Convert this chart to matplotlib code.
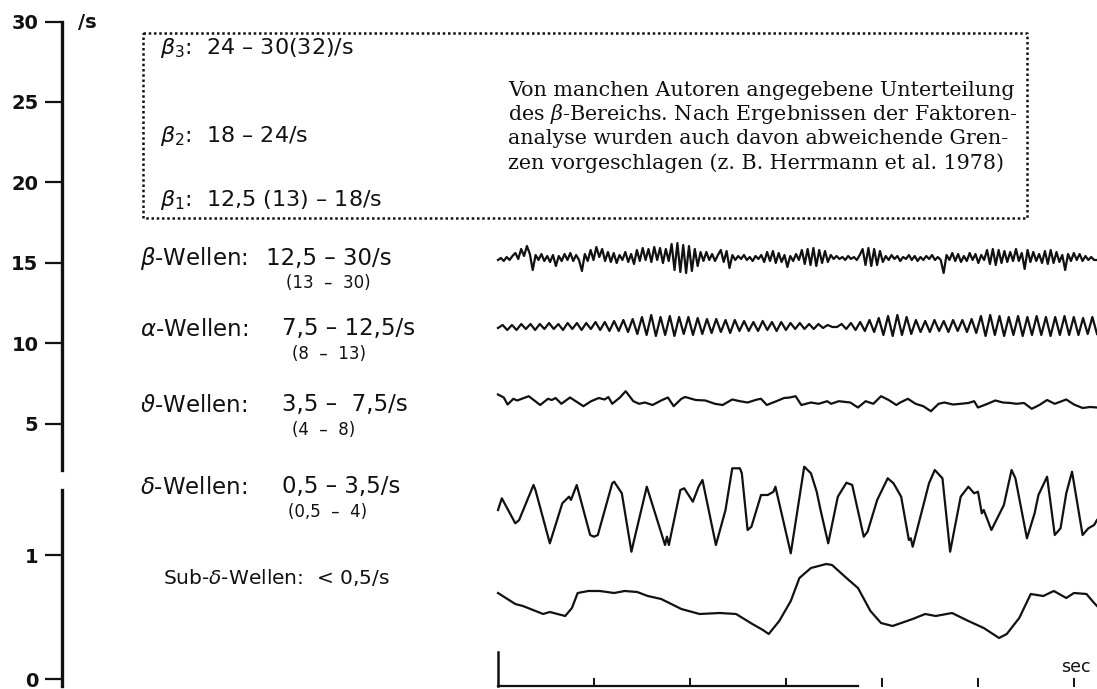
import numpy as np
import matplotlib
matplotlib.use("Agg")
import matplotlib.pyplot as plt

plt.rcParams["font.family"] = ["DejaVu Sans"]
plt.rcParams["mathtext.fontset"] = "dejavusans"

# ---------------- data ----------------
# frequency scale (waves per second), split into an upper and a lower range
freq_ticks_hi = [5, 10, 15, 20, 25, 30]
freq_ticks_lo = [0, 1]
freq_range_hi = (2.14, 30.0)
freq_range_lo = (-0.056, 1.524)

# time base of the traces (seconds)
record_len = 6.24
sec_ticks = [0, 1, 2, 3, 4, 5, 6]

# beta: deflections sampled every ~0.03 s
beta_vals = [-2, 0, -3, 1, -2, 2,
             5, -1, 9, 2, 12, 4, -12,
             3, -2, 4, -3, 2, -4, 3, -8, 2, -3, 4, -2, 5, -3, 3,
             -2, -13, 4, -3,
             8, -2, 11, 1, 9, -3, 6,
             -4, 5, -5, 3, -2, 6, -4, 4, -6, 8, -3, 10, -2, 9,
             -4, 11, -2, 10, -5, 9, -3,
             14, -12, 15, -14, 13, -15, 12, -13, 9, -8, 6,
             -3, 6, -2, 4, -3, 3,
             8, -4, 7, -10, 3, -2,
             2, -1, 3, -2, 1, -3, 2, -1, 3,
             -4, 6, -3, 7, -5, 5, -4, 3, -9,
             2, -3, 4, -2,
             8, -6, 9, -7, 10, -8, 8, -5, 7, -4, 3,
             -1, 2, -1, 1, -2, 2, -1, 1, -2, 3,
             9, -7, 10, -8, 9, -7, 7, -4,
             2, -2, 3, -1, 2, -3, 1, -1, 3, -2, 2, -3, 1, -2, 2, -1, 3, -2, 1, -2,
             -15,
             3, -2, 5, -3, 4, -4, 2, -3, 5, -2, 4, -5, 3, -2,
             8, -6, 9, -7, 8, -5, 7, -4, 6, -3,
             9, -3, 5, -11,
             8, -4, 6, -3, 4,
             -5, 7, -6, 8, -5, 6, -4, 3,
             -12,
             4, -3, 5, -2, 4, -3, 2, -2, 1, -2, -2]

# alpha: deflections sampled every ~0.048 s
alpha_vals = [-2, 1, -4, 1, -4, 2, -3, 2, -4, 2, -3, 3, -3, 2, -4, 3, -3, 3, -4, 3, -3, 4, -4, 4,
              -5, 5, -5, 6, -6, 7,
              -8, 9, -9, 11, -10, 9, -9, 10, -10, 9, -8, 9, -9, 8,
              -8, 7, -7, 7, -6, 6, -7, 6,
              -5, 5, -5, 4, -5, 5, -4, 4, -5, 4, -4, 3,
              -3, 3, -3, 2, -3, 2, -2, 1,
              -1, -1,
              2, -3, 3, -4, 4, -5, 6, -6,
              8, -9, 10, -10, 11, -9, 9, -8,
              6, -6, 5, -6, 6, -5, 5, -6, 6, -5, 6, -6, 7, -7,
              10, -10, 11, -9, 10, -10, 9, -9, 10, -10, 9, -9, 10, -9, 9, -10, 9, -9, 10, -9,
              9, -9, 8, -8, 9, -8]

# theta: (time s, deflection)
theta_t = [0.00, 0.06, 0.10, 0.16, 0.20, 0.32, 0.44, 0.52, 0.56, 0.60, 0.66, 0.75, 0.89, 0.97,
           1.05, 1.11, 1.15, 1.19, 1.27, 1.33, 1.41, 1.47, 1.53, 1.61, 1.71, 1.77, 1.83, 1.91,
           1.95, 2.06, 2.16, 2.26, 2.34, 2.44, 2.52, 2.60, 2.70, 2.74, 2.80, 2.90, 2.98, 3.04,
           3.10, 3.16, 3.26, 3.34, 3.43, 3.47, 3.55, 3.67, 3.75, 3.83, 3.91, 3.99, 4.07, 4.15,
           4.19, 4.27, 4.35, 4.43, 4.51, 4.59, 4.65, 4.74, 4.82, 4.90, 4.96, 5.00, 5.10, 5.18,
           5.26, 5.34, 5.40, 5.48, 5.56, 5.64, 5.72, 5.80, 5.92, 6.00, 6.09, 6.17, 6.24]
theta_v = [7.5, 4.5, -2.5, 3.2, 1.5, 5.8, -3.0, 3.2, 2.0, 4.0, -1.8, 4.5, -4.2, 0.8,
           4.0, 2.5, 5.0, -1.8, 4.5, 10.8, 0.8, -1.8, -0.5, -3.0, 2.0, 4.5, -4.2, 3.2,
           5.0, 2.0, 1.5, -1.8, -3.0, 2.5, 0.8, -0.5, 2.5, 3.2, -3.0, 0.8, 4.0, 4.5,
           5.8, -3.0, -0.5, -1.8, 0.8, -1.8, 0.8, -0.5, -5.5, 0.8, -1.8, 5.8, 2.0, -3.0,
           -0.5, 3.2, -1.8, -4.2, -9.2, -1.8, -0.5, -2.5, -1.8, -1.0, 0.8, -5.5, -1.8, 1.5,
           -0.5, -1.0, -1.8, -1.0, -6.8, -3.0, 2.0, -1.8, 2.5, -2.5, -6.0, -5.0, -5.5]

# delta: (time s, deflection)
delta_t = [0.00, 0.04, 0.18, 0.22, 0.37, 0.39, 0.54, 0.67, 0.74, 0.76, 0.82, 0.96, 1.00, 1.04,
           1.19, 1.21, 1.29, 1.39, 1.41, 1.55, 1.74, 1.76, 1.78, 1.90, 1.94, 2.03, 2.09, 2.13,
           2.27, 2.37, 2.44, 2.52, 2.54, 2.60, 2.64, 2.74, 2.81, 2.87, 2.89, 3.05, 3.19, 3.26,
           3.32, 3.36, 3.44, 3.54, 3.63, 3.69, 3.81, 3.85, 3.95, 4.06, 4.12, 4.20, 4.28, 4.30,
           4.32, 4.49, 4.55, 4.63, 4.71, 4.82, 4.90, 4.96, 5.00, 5.04, 5.06, 5.14, 5.27, 5.35,
           5.39, 5.51, 5.59, 5.63, 5.72, 5.80, 5.86, 5.92, 5.98, 6.09, 6.15, 6.21, 6.24]
delta_v = [0, 11.7, -13.3, -10, 25, 20, -33.3, 6.7, 13.3, 10, 25, -25, -26.7, -25,
           26.7, 28.3, 16.7, -41.7, -33.3, 23.3, -35, -26.7, -35, 20, 21.7, 8.3, 23.3, 30,
           -35, 0, 41.7, 41.7, 36.7, -20, -16.7, 15, 15, 18.3, 23.3, -43.3, 43.3, 36.7,
           18.3, 0, -33.3, 13.3, 27.3, 25, -26.7, -21.7, 10, 31.7, 26.7, 13.3, -30, -28.3,
           -36.7, 26.7, 40, 31.7, -41.7, 13.3, 23.3, 16.7, 18.3, -3.3, 0, -20, 5, 40,
           31.7, -28.3, -3.3, 15, 33.3, -25, -18.3, 16.7, 38.3, -25, -18.3, -15, -10]

# sub-delta: (time s, deflection)
sub_t = [0.00, 0.18, 0.26, 0.47, 0.54, 0.70, 0.77, 0.83, 0.94, 1.06, 1.21, 1.32, 1.45, 1.56,
         1.70, 1.91, 2.10, 2.31, 2.48, 2.65, 2.76, 2.82, 2.93, 3.05, 3.14, 3.26, 3.42, 3.48,
         3.63, 3.75, 3.88, 3.99, 4.11, 4.32, 4.45, 4.56, 4.73, 4.90, 5.06, 5.22, 5.30, 5.43,
         5.55, 5.68, 5.79, 5.92, 6.00, 6.13, 6.21, 6.24]
sub_v = [1, -10, -12, -20, -18, -22, -14, 1, 3, 3, 1, 3, 2, -2,
         -5, -15, -20, -19, -20, -30, -36, -40, -27, -7, 16, 26, 30, 29,
         16, 6, -17, -29, -32, -25, -20, -22, -19, -27, -34, -44, -40, -24,
         0, -2, 3, -4, 1, 0, -9, -12]

# ---------------- figure ----------------
W, H = 1097, 689
fig = plt.figure(figsize=(W / 100, H / 100), dpi=100)


def fx(px):
    return px / W


def fy(py):
    return 1 - py / H


INK = "#111111"

# full-figure canvas in pixel units for the annotations
bg = fig.add_axes([0, 0, 1, 1])
bg.set_xlim(0, W)
bg.set_ylim(H, 0)
bg.axis("off")


# frequency scale
def freq_axis(top_px, bottom_px, rng, ticks):
    ax = fig.add_axes([fx(62), fy(bottom_px), 0.0005, fy(top_px) - fy(bottom_px)])
    ax.patch.set_alpha(0)
    for s in ("top", "right", "bottom"):
        ax.spines[s].set_visible(False)
    ax.spines["left"].set_linewidth(2.4)
    ax.spines["left"].set_color(INK)
    ax.set_ylim(*rng)
    ax.set_xticks([])
    ax.set_yticks(ticks)
    ax.set_yticklabels([str(t) for t in ticks], fontweight="bold")
    ax.tick_params(axis="y", direction="out", length=12, width=1.6, pad=5,
                   labelsize=14, colors=INK)
    return ax


freq_axis(21.5, 470, freq_range_hi, freq_ticks_hi)
freq_axis(490, 686, freq_range_lo, freq_ticks_lo)
bg.text(78, 22, "/s", fontsize=14, fontweight="bold", va="center", ha="left", color=INK)

# dotted box with the beta sub-bands
box_x = [143, 1027, 1027, 143, 143]
box_y = [33, 33, 218, 218, 33]
bg.plot(box_x, box_y, color=INK, lw=1.8, ls=(0, (1, 1.1)))

bg.text(160, 48, r"$\beta_3$:  24 – 30(32)/s", fontsize=16, va="center", color=INK)
bg.text(160, 136, r"$\beta_2$:  18 – 24/s", fontsize=16, va="center", color=INK)
bg.text(160, 200, r"$\beta_1$:  12,5 (13) – 18/s", fontsize=16, va="center", color=INK)

para = ["Von manchen Autoren angegebene Unterteilung",
        r"des $\beta$-Bereichs. Nach Ergebnissen der Faktoren-",
        "analyse wurden auch davon abweichende Gren-",
        "zen vorgeschlagen (z. B. Herrmann et al. 1978)"]
for k, line in enumerate(para):
    bg.text(508, 90 + 24.5 * k, line, fontsize=14.9, family="DejaVu Serif",
            math_fontfamily="dejavuserif", va="center", ha="left", color=INK)

# band labels
rows = [(r"$\beta$-Wellen:", "12,5 – 30/s", "(13  –  30)", 258, 266, 286),
        (r"$\alpha$-Wellen:", "7,5 – 12,5/s", "(8  –  13)", 329, 282, 292),
        (r"$\vartheta$-Wellen:", "3,5 –  7,5/s", "(4  –  8)", 405, 282, 292),
        (r"$\delta$-Wellen:", "0,5 – 3,5/s", "(0,5  –  4)", 487, 282, 288)]
for name, rng, alt, yc, xr, xa in rows:
    bg.text(140, yc, name, fontsize=16.5, va="center", color=INK)
    bg.text(xr, yc, rng, fontsize=16.5, va="center", color=INK)
    bg.text(xa, yc + 25, alt, fontsize=12, va="center", color=INK)
bg.text(163, 578, r"Sub-$\delta$-Wellen:  < 0,5/s", fontsize=14.5, va="center", color=INK)

# EEG traces
tr = fig.add_axes([fx(498), 0, fx(W) - fx(498), fy(230)])
tr.set_xlim(0, record_len)
tr.set_ylim(H, 230)
tr.axis("off")

traces = [
    (np.linspace(0, record_len, len(beta_vals)), beta_vals, 258),
    (np.linspace(0, record_len, len(alpha_vals)), alpha_vals, 326),
    (np.array(theta_t), theta_v, 402),
    (np.array(delta_t), delta_v, 510),
    (np.array(sub_t), sub_v, 594),
]
for t, v, base in traces:
    tr.plot(t, base - np.asarray(v, dtype=float), color=INK, lw=1.6,
            solid_joinstyle="round", clip_on=False)

# time base: seconds marks
tr.plot([0, 3.75], [686, 686], color=INK, lw=1.6, clip_on=False)
tr.plot([0, 0], [652, 686], color=INK, lw=1.8, clip_on=False)
for s in sec_ticks[1:]:
    tr.plot([s, s], [679, 686], color=INK, lw=1.4, clip_on=False)
tr.text(6.02, 667, "sec", fontsize=12.5, ha="center", va="center", color=INK)

fig.savefig("out.png", dpi=100)
